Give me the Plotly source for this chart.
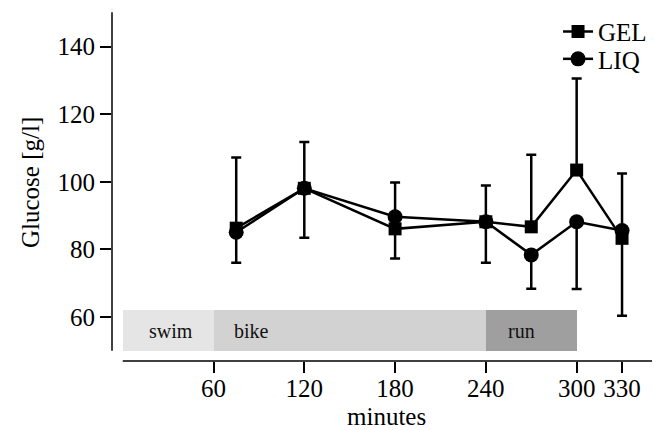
import plotly.graph_objects as go

# ---- data ----
minutes = [75, 120, 180, 240, 270, 300, 330]
gel_mean = [86.3, 98.1, 86.1, 88.2, 86.7, 103.5, 83.3]
gel_upper = [107.2, 111.8, 99.8, 98.9, 108.0, 130.6, 102.5]
liq_mean = [85.1, 98.1, 89.7, 88.2, 78.4, 88.2, 85.6]
liq_lower = [76.1, 83.5, 77.3, 76.1, 68.4, 68.3, 60.4]

phases = ["swim", "bike", "run"]
phase_start = [0, 60, 240]
phase_end = [60, 240, 300]
phase_colors = ["#e5e5e5", "#d2d2d2", "#9f9f9f"]
phase_band = (50, 62)

x_ticks = [60, 120, 180, 240, 300, 330]
y_ticks = [60, 80, 100, 120, 140]

FONT = "Liberation Serif, Times New Roman, serif"

fig = go.Figure()

# phase bars (horizontal bars through the axes)
for name, s, e, c in zip(phases, phase_start, phase_end, phase_colors):
    fig.add_trace(go.Bar(
        x=[e - s], y=[(phase_band[0] + phase_band[1]) / 2], base=[s],
        width=[phase_band[1] - phase_band[0]], orientation="h",
        marker=dict(color=c, line=dict(width=0)),
        showlegend=False, hoverinfo="skip"))

# phase labels
label_offsets = [16, 12, 13]
for name, s, off in zip(phases, phase_start, label_offsets):
    fig.add_annotation(x=s + off, y=(phase_band[0] + phase_band[1]) / 2,
                       text=name, showarrow=False, xanchor="left",
                       yanchor="middle",
                       font=dict(family=FONT, size=20, color="#111"))

gel_up = [u - m for u, m in zip(gel_upper, gel_mean)]
liq_dn = [m - l for m, l in zip(liq_mean, liq_lower)]
zeros = [0] * len(minutes)

fig.add_trace(go.Scatter(
    x=minutes, y=gel_mean, name="GEL", mode="lines+markers",
    line=dict(color="black", width=2.5),
    marker=dict(symbol="square", size=13, color="black"),
    legend="legend",
    error_y=dict(type="data", symmetric=False, array=gel_up,
                 arrayminus=zeros, color="black", thickness=2.5, width=5)))
fig.add_trace(go.Scatter(
    x=minutes, y=liq_mean, name="LIQ", mode="lines+markers",
    line=dict(color="black", width=2.5),
    marker=dict(symbol="circle", size=15, color="black"),
    legend="legend2",
    error_y=dict(type="data", symmetric=False, array=zeros,
                 arrayminus=liq_dn, color="black", thickness=2.5, width=5)))

x_range = [-7.1, 349.8]
y_range = [47.0, 150.27]

# detached axis lines
fig.add_shape(type="line", xref="paper", yref="y", x0=0, x1=0,
              y0=50, y1=150.2, line=dict(color="black", width=1.5))
fig.add_shape(type="line", xref="x", yref="paper", x0=0, x1=349.8,
              y0=0, y1=0, line=dict(color="black", width=1.5))

# axis titles
fig.add_annotation(text="minutes", xref="paper", yref="paper",
                   x=(386 - 112) / 540, y=0, yshift=-71, showarrow=False,
                   xanchor="center", yanchor="bottom",
                   font=dict(family=FONT, size=25, color="black"))
fig.add_annotation(text="Glucose [g/l]", xref="paper", yref="paper",
                   x=0, xshift=-82, y=(361 - 183) / 349, showarrow=False,
                   textangle=-90, xanchor="center", yanchor="middle",
                   font=dict(family=FONT, size=25, color="black"))

leg_common = dict(xanchor="left", yanchor="top", bgcolor="rgba(0,0,0,0)",
                  font=dict(family=FONT, size=25, color="black"),
                  itemwidth=30)

fig.update_layout(
    width=665, height=430,
    margin=dict(l=112, r=13, t=12, b=69, autoexpand=False),
    plot_bgcolor="white", paper_bgcolor="white",
    barmode="overlay", bargap=0,
    font=dict(family=FONT, size=25, color="black"),
    showlegend=True,
    legend=dict(x=0.826, y=1.009, **leg_common),
    legend2=dict(x=0.826, y=0.931, **leg_common),
    xaxis=dict(range=x_range, tickvals=x_ticks, showgrid=False,
               zeroline=False, showline=False, ticks="outside",
               ticklen=11, tickwidth=1.5, tickcolor="black",
               tickfont=dict(size=25), automargin=False,
               ticklabelstandoff=-6),
    yaxis=dict(range=y_range, tickvals=y_ticks, showgrid=False,
               zeroline=False, showline=False, ticks="outside",
               ticklen=11, tickwidth=1.5, tickcolor="black",
               tickfont=dict(size=25), automargin=False),
)

fig.write_html("out.html")
